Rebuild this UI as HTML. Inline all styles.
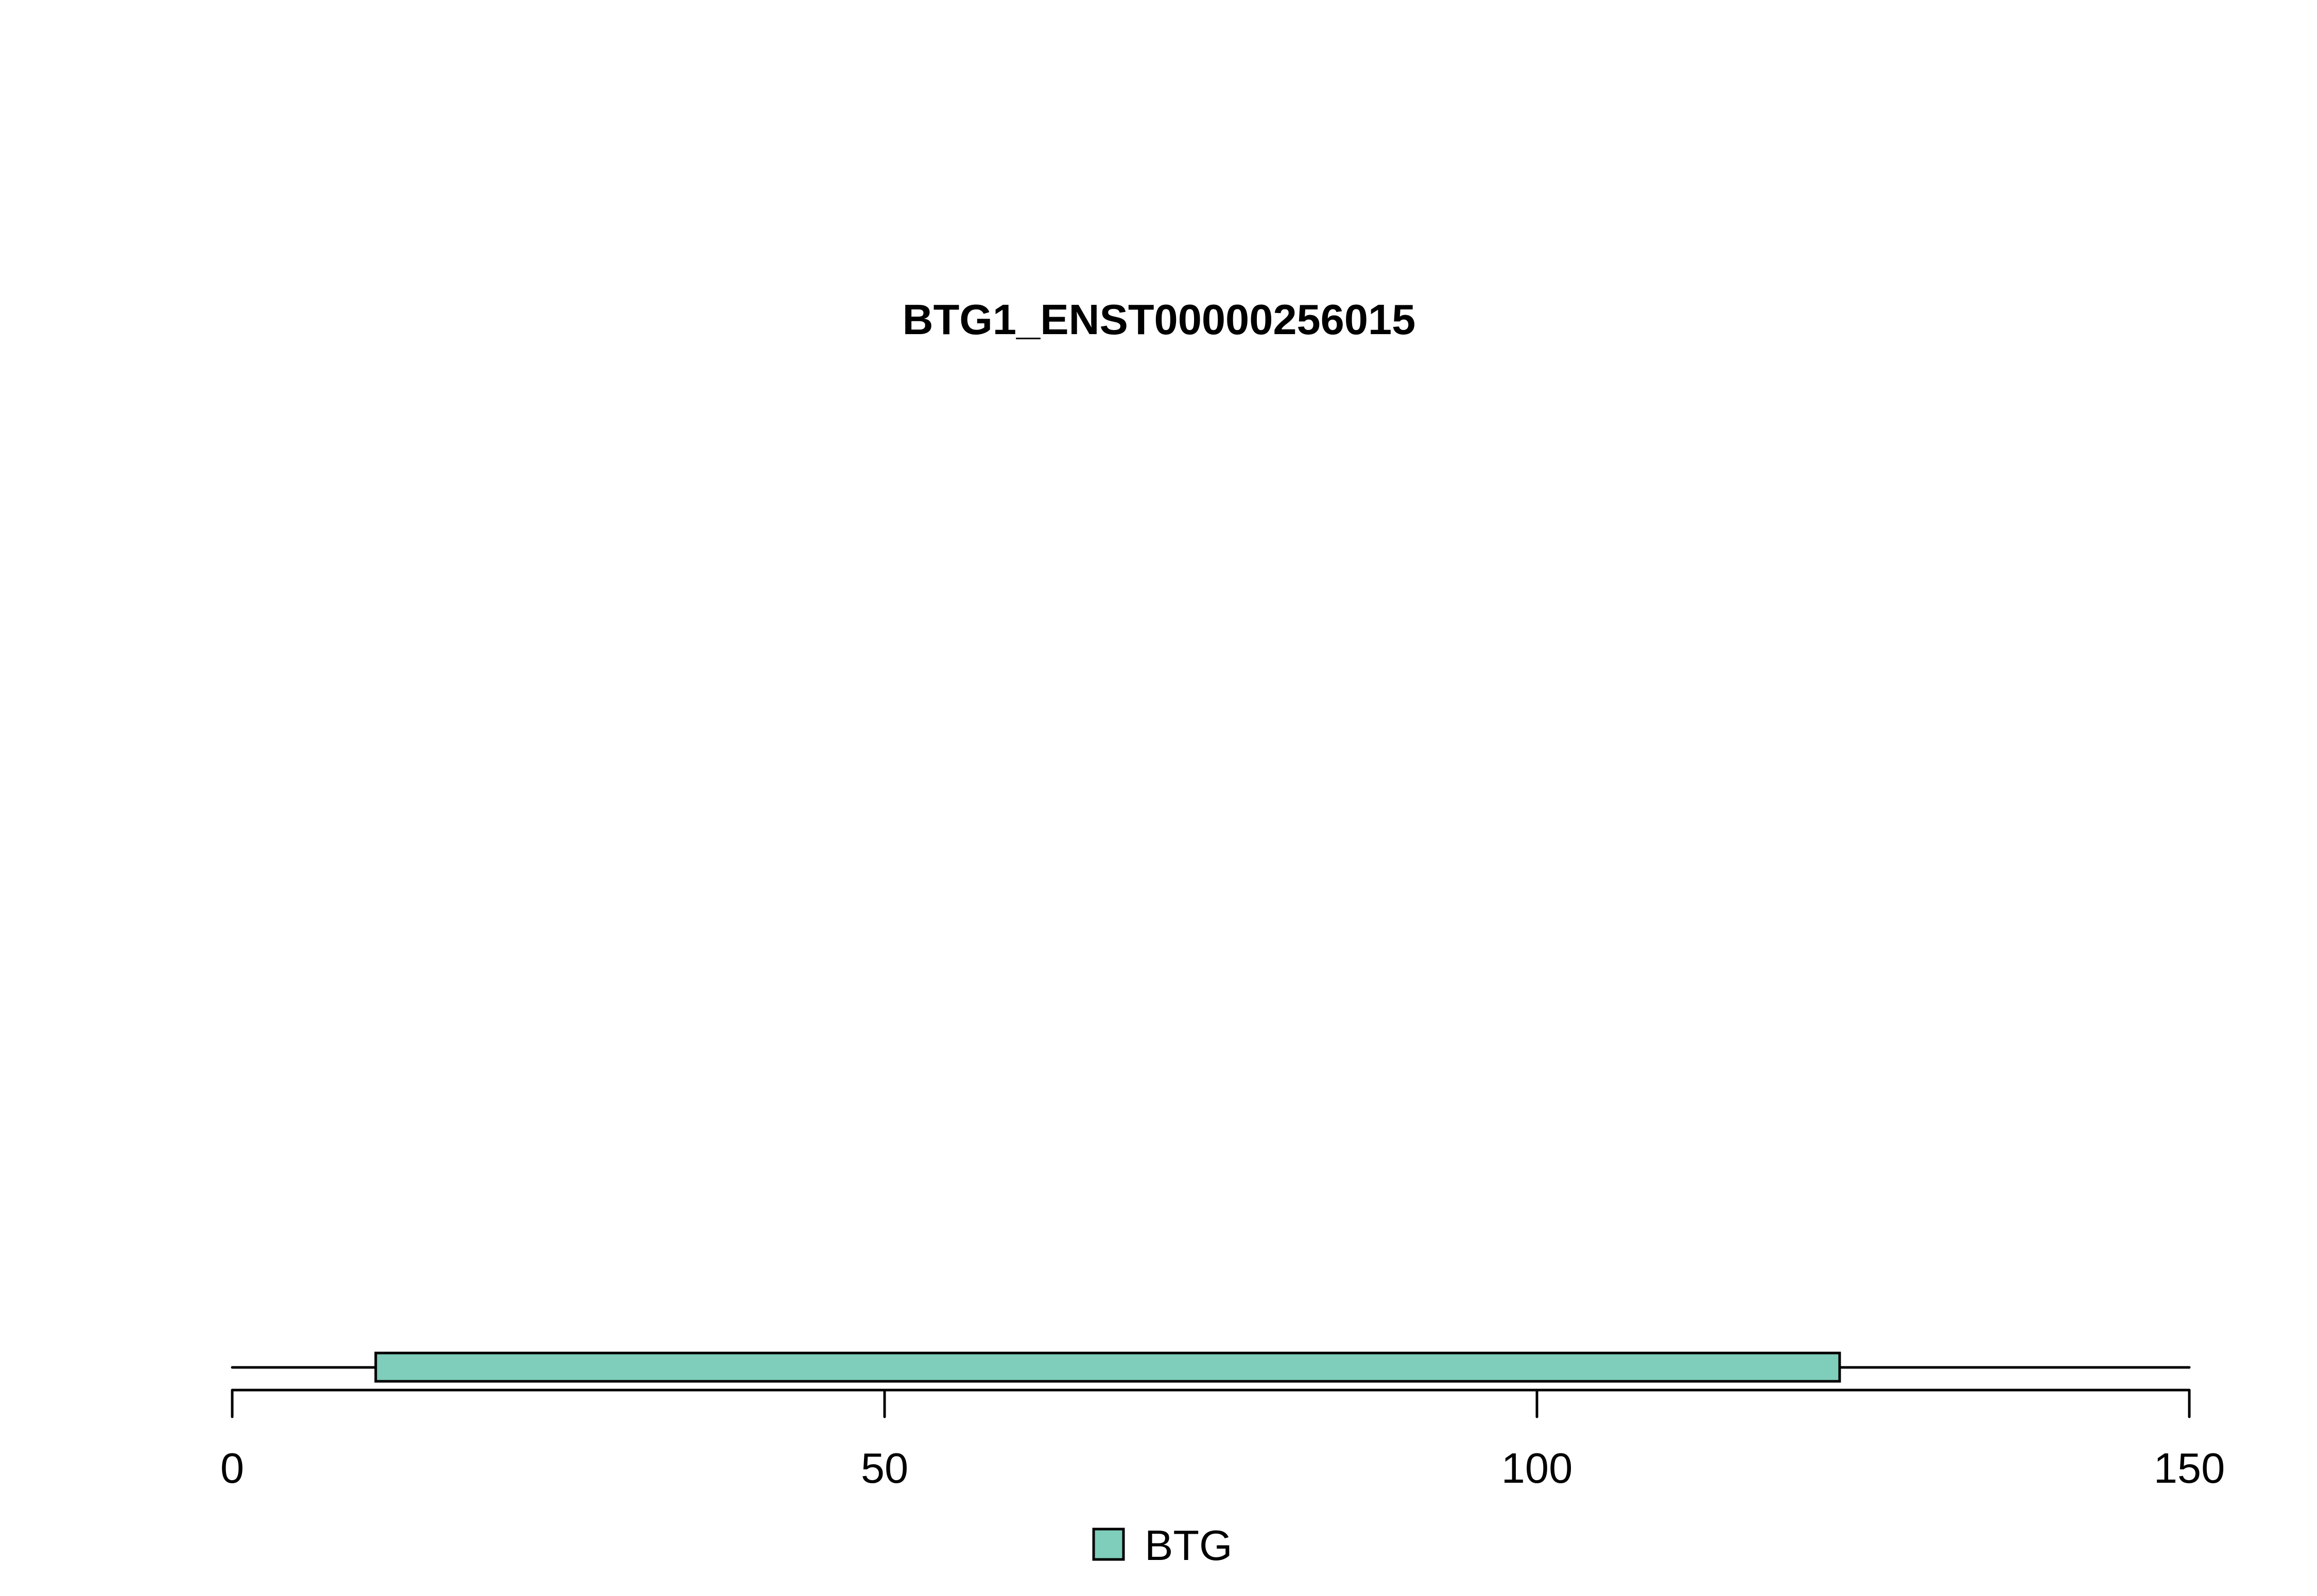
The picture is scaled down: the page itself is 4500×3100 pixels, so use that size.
<!DOCTYPE html>
<html><head><meta charset="utf-8"><style>html,body{margin:0;padding:0;background:#fff}svg{display:block}</style></head>
<body>
<svg id="chart" width="4500" height="3100" viewBox="0 0 4500 3100" xmlns="http://www.w3.org/2000/svg" font-family="Liberation Sans, Arial, sans-serif">
<rect width="4500" height="3100" fill="#fff"/>
<text x="2251" y="649" font-size="83" font-weight="bold" text-anchor="middle">BTG1_ENST00000256015</text>
<g id="plot"></g>
<rect x="2124" y="2970" width="58" height="59" fill="#7FCDBB" stroke="#000" stroke-width="5"/>
<text x="2223" y="3030" font-size="83">BTG</text>
</svg>
<script>
const domainNames = ["BTG"];
const domainStarts = [11];
const domainEnds = [123.2];
const proteinLength = [150];
const tickValues = [0, 50, 100, 150];
const tickLabels = ["0", "50", "100", "150"];

const NS = "http://www.w3.org/2000/svg";
const g = document.getElementById("plot");
const X0 = 451, X1 = 4252, XMAX = 150;
function xs(v){ return X0 + (v / XMAX) * (X1 - X0); }
function mk(tag, attrs){ const e = document.createElementNS(NS, tag); for (const k in attrs) e.setAttribute(k, attrs[k]); g.appendChild(e); return e; }

const bb = mk("line", {x1: xs(0), x2: xs(proteinLength[0]), y1: 2656, y2: 2656, stroke: "#000", "stroke-width": 5, "stroke-linecap": "round"});



domainNames.forEach((n, i) => {
  const r = mk("rect", {x: xs(domainStarts[i]), y: 2628, width: xs(domainEnds[i]) - xs(domainStarts[i]), height: 55, fill: "#7FCDBB", stroke: "#000", "stroke-width": 5});
  
  
});

const ax = mk("line", {x1: xs(tickValues[0]), x2: xs(tickValues[tickValues.length - 1]), y1: 2700, y2: 2700, stroke: "#000", "stroke-width": 5});



tickValues.forEach((v, i) => {
  const t = mk("line", {x1: xs(v), x2: xs(v), y1: 2700, y2: 2752, stroke: "#000", "stroke-width": 5, "stroke-linecap": "round"});
  
  
  const l = mk("text", {x: xs(v), y: 2880, "font-size": 83, "text-anchor": "middle"});
  l.textContent = tickLabels[i];
  
  
});
</script>
</body></html>
